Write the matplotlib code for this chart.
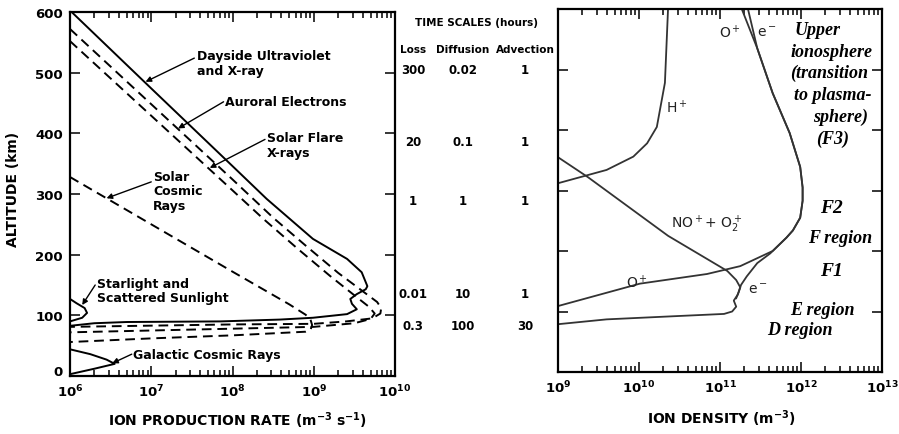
import numpy as np
import matplotlib
matplotlib.use('Agg')
import matplotlib.pyplot as plt
from matplotlib.transforms import ScaledTranslation

plt.rcParams['font.family'] = 'DejaVu Sans'
plt.rcParams['mathtext.default'] = 'regular'

# ---- left panel: ion production rate (log10 of m^-3 s^-1) vs altitude (km)
uv_logq = [6.02, 7.0, 8.0, 8.42, 8.99, 9.41, 9.59, 9.66, 9.64, 9.53, 9.45, 9.47,
           9.53, 9.41, 8.99, 8.58, 7.85, 6.70, 6.30, 6.02]
uv_alt = [600, 474, 346, 292, 226, 193, 171, 148, 143, 135, 127, 119,
          110, 102, 96, 93, 90, 89, 87, 83]

aur_logq = [6.0, 7.0, 8.0, 8.5, 8.9, 9.3, 9.6, 9.78, 9.83, 9.82, 9.72, 9.4,
            9.0, 8.0, 7.0, 6.0]
aur_alt = [572, 448, 324, 261, 215, 170, 140, 122, 112, 103, 95, 90,
           86, 85, 83, 81]

flare_logq = [6.0, 7.0, 8.0, 8.38, 8.8, 9.2, 9.5, 9.68, 9.75, 9.7, 9.5, 9.0,
              8.0, 7.0, 6.0]
flare_alt = [552, 429, 306, 259, 210, 165, 133, 114, 103, 94, 87, 81,
             78, 75, 72]

scr_logq = [6.0, 7.0, 8.0, 8.7, 8.9, 8.96, 8.98, 8.96, 8.9, 8.0, 7.0, 6.0]
scr_alt = [328, 250, 172, 118, 101, 93, 84, 76, 73, 67, 62, 56]

star_logq = [6.0, 6.08, 6.18, 6.21, 6.15, 6.0]
star_alt = [127, 120, 112, 104, 96, 90]

gcr_logq = [6.0, 6.25, 6.45, 6.55, 6.3, 6.0]
gcr_alt = [44, 36, 27, 20, 12, 3]

# ---- right panel: ion density (log10 of m^-3) vs altitude (km)
top_logn = [11.46, 11.65, 11.86, 11.99, 12.02, 12.02, 11.99, 11.9, 11.82]
top_alt = [535, 461, 395, 339, 305, 283, 255, 234, 222]

op_logn = [11.26] + top_logn + [11.65, 11.25, 10.84, 10.01, 9.0]
op_alt = [603] + top_alt + [200, 175, 162, 146, 109]

el_logn = [11.34] + top_logn + [11.62, 11.46, 11.33, 11.26, 11.23, 11.2]
el_alt = [603] + top_alt + [196, 180, 158, 144, 132, 122]

hp_logn = [10.36, 10.32, 10.22, 10.10, 9.93, 9.6, 9.0]
hp_alt = [605, 478, 405, 378, 356, 334, 312]

no_logn = [9.0, 9.37, 10.36, 11.09, 11.2, 11.25, 11.22, 11.17, 11.2, 11.15,
           11.05, 10.4, 9.6, 9.0]
no_alt = [355, 322, 225, 167, 152, 140, 128, 118, 108, 100,
          96, 92, 87, 79]

# ---- time scale table (hours)
ts_loss = ['300', '20', '1', '0.01', '0.3']
ts_diff = ['0.02', '0.1', '1', '10', '100']
ts_adv = ['1', '1', '1', '1', '30']
ts_rows_px = [71, 142, 202, 295, 327]

W, H = 899, 435
fig = plt.figure(figsize=(W / 100, H / 100), dpi=100)
ax1 = fig.add_axes([70 / W, 1 - 377 / H, 325 / W, 364 / H])
ax2 = fig.add_axes([558 / W, 1 - 373 / H, 324 / W, 363 / H])

tk = dict(fontsize=9.5, fontweight='bold')
for ax in (ax1, ax2):
    ax.set_xscale('log')
    ax.set_ylim(0, 600)
    ax.tick_params(which='both', direction='in', top=True, right=True, width=1.1)
    ax.tick_params(which='major', length=7, pad=4)
    ax.tick_params(which='minor', length=4)
    for s in ax.spines.values():
        s.set_linewidth(1.6)
    ax.set_yticks(range(0, 601, 100))

ax1.set_xlim(1e6, 1e10)
ax1.set_xticks([1e6, 1e7, 1e8, 1e9, 1e10])
ax1.set_xticklabels(['$10^{%d}$' % e for e in range(6, 11)], **tk)
ax1.set_yticklabels([str(v) for v in range(0, 601, 100)], **tk)
ax1.tick_params(axis='y', pad=5)
ax1.tick_params(axis='x', pad=5)
# nudge the "0" a little up so it clears the 10^6 label
zero = ax1.get_yticklabels()[0]
zero.set_transform(zero.get_transform() + ScaledTranslation(0, 4 / 72, fig.dpi_scale_trans))

ax2.set_xlim(1e9, 1e13)
ax2.set_xticks([1e9, 1e10, 1e11, 1e12, 1e13])
ax2.set_xticklabels(['$10^{%d}$' % e for e in range(9, 14)], **tk)
ax2.set_yticklabels([])
ax2.tick_params(axis='x', pad=5)

lw = 1.4
dash = (0, (5, 3))
q = lambda v: np.power(10.0, v)

ax1.plot(q(uv_logq), uv_alt, color='k', lw=lw)
ax1.plot(q(aur_logq), aur_alt, color='k', lw=lw, ls=dash)
ax1.plot(q(flare_logq), flare_alt, color='k', lw=lw, ls=dash)
ax1.plot(q(scr_logq), scr_alt, color='k', lw=lw, ls=dash)
ax1.plot(q(star_logq), star_alt, color='k', lw=lw)
ax1.plot(q(gcr_logq), gcr_alt, color='k', lw=lw)

lab = dict(fontsize=9, fontweight='bold', ha='left', va='center', linespacing=1.15)
arr = dict(arrowstyle='-|>', lw=1.0, color='k', mutation_scale=8, shrinkA=0, shrinkB=0)

def tag(ax, text, xy_text, start, end):
    ax.text(q(xy_text[0]), xy_text[1], text, **lab)
    ax.annotate('', xy=(q(end[0]), end[1]), xytext=(q(start[0]), start[1]), arrowprops=arr)

tag(ax1, 'Dayside Ultraviolet\nand X-ray', (7.56, 516), (7.53, 524), (6.93, 485))
tag(ax1, 'Auroral Electrons', (7.91, 453), (7.89, 452), (7.33, 408))
tag(ax1, 'Solar Flare\nX-rays', (8.42, 381), (8.40, 390), (7.72, 343))
tag(ax1, 'Solar\nCosmic\nRays', (7.02, 305), (7.00, 320), (6.45, 293))
tag(ax1, 'Starlight and\nScattered Sunlight', (6.33, 141), (6.31, 150), (6.15, 117))
tag(ax1, 'Galactic Cosmic Rays', (6.78, 36), (6.76, 36), (6.52, 21))

ax1.set_xlabel('ION PRODUCTION RATE (m$^{-3}$ s$^{-1}$)', fontsize=10, fontweight='bold')
ax1.xaxis.set_label_coords(0.514, -0.092)
ax1.set_ylabel('ALTITUDE (km)', fontsize=10, fontweight='bold')
ax1.yaxis.set_label_coords(-0.155, 0.514)

# right panel curves
ax2.plot(q(op_logn), op_alt, color='#333333', lw=1.3)
ax2.plot(q(el_logn), el_alt, color='#333333', lw=1.3)
ax2.plot(q(hp_logn), hp_alt, color='#333333', lw=1.3)
ax2.plot(q(no_logn), no_alt, color='#333333', lw=1.3)

ion = dict(fontsize=10, ha='center', va='center', color='#222222')
ax2.text(q(11.12), 563, 'O$^+$', **ion)
ax2.text(q(11.58), 563, 'e$^-$', **ion)
ax2.text(q(10.47), 438, 'H$^+$', **ion)
ax2.text(q(10.84), 245, 'NO$^+$+ O$_2^+$', **ion)
ax2.text(q(9.98), 150, 'O$^+$', **ion)
ax2.text(q(11.47), 137, 'e$^-$', **ion)

reg = dict(family=['Liberation Serif', 'DejaVu Serif'], style='italic', fontweight='bold',
           ha='center', va='center', fontsize=13)
upper_lines = ['Upper', 'ionosphere', '(transition', 'to plasma-', 'sphere)', '(F3)']
upper_x = [12.20, 12.38, 12.35, 12.39, 12.49, 12.39]
upper_y = [566, 530, 495, 458, 422, 387]
for t, xv, yv in zip(upper_lines, upper_x, upper_y):
    ax2.text(q(xv), yv, t, **reg)
ax2.text(q(12.38), 272, 'F2', **dict(reg, fontsize=14))
ax2.text(q(12.48), 222, 'F region', **reg)
ax2.text(q(12.38), 167, 'F1', **dict(reg, fontsize=14))
ax2.text(q(12.27), 104, 'E region', **reg)
ax2.text(q(11.99), 71, 'D region', **reg)

ax2.set_xlabel('ION DENSITY (m$^{-3}$)', fontsize=10, fontweight='bold')
ax2.xaxis.set_label_coords(0.503, -0.098)

# time scale table
fx = lambda px: px / W
fy = lambda py: 1 - py / H
tb = dict(fontsize=7.5, fontweight='bold', ha='center', va='center')
fig.text(fx(477), fy(23), 'TIME SCALES (hours)', **tb)
for name, xp in zip(['Loss', 'Diffusion', 'Advection'], [413, 463, 525]):
    fig.text(fx(xp), fy(50), name, **tb)
for a, b, c, yp in zip(ts_loss, ts_diff, ts_adv, ts_rows_px):
    fig.text(fx(413), fy(yp), a, **dict(tb, fontsize=8.5))
    fig.text(fx(463), fy(yp), b, **dict(tb, fontsize=8.5))
    fig.text(fx(525), fy(yp), c, **dict(tb, fontsize=8.5))

fig.savefig('out.png', dpi=100)
